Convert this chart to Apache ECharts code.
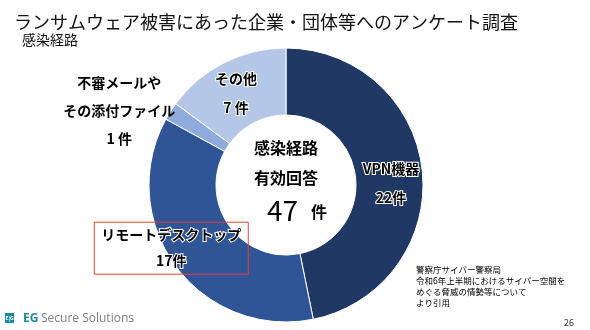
<!DOCTYPE html>
<html>
<head>
<meta charset="utf-8">
<script src="https://cdn.jsdelivr.net/npm/echarts@6/dist/echarts.min.js"></script>
<style>
html,body{margin:0;padding:0;background:#fff;}
#c{width:590px;height:330px;}
</style>
</head>
<body>
<div id="c"></div>
<script>
// ---- data ----
const categories = ['VPN機器', 'リモートデスクトップ', '不審メールや\nその添付ファイル', 'その他'];
const counts = [22, 17, 1, 7];
const countUnits = ['件', '件', ' 件', ' 件'];
const titleText = 'ランサムウェア被害にあった企業・団体等へのアンケート調査';
const subtitleText = '感染経路';
const centerLines = ['感染経路', '有効回答'];
const centerUnit = '件';
const sourceLines = ['警察庁サイバー警察局', '令和6年上半期におけるサイバー空間を', 'めぐる脅威の情勢等について', 'より引用'];
const pageNumber = '26';

// ---- styles ----
const FONT = '"Noto Sans CJK JP", "Noto Sans", sans-serif';
const colors = ['#203864', '#2f5597', '#8faadc', '#b4c7e7'];
const labelOverrides = [
  { offset: [-1, 9] },
  { offset: [-29, 0], borderColor: '#e0403a', borderWidth: 1, padding: [0, 7], lineHeight: 26 },
  { offset: [-77, -17], lineHeight: 28, textBorderWidth: 0 },
  { offset: [-2, 3] }
];

const total = counts.reduce((a, b) => a + b, 0);

const data = categories.map((name, i) => ({
  name: name,
  value: counts[i],
  unit: countUnits[i],
  itemStyle: { color: colors[i] },
  label: labelOverrides[i]
}));

const chart = echarts.init(document.getElementById('c'), null, { renderer: 'canvas' });

function txt(x, y, text, font, opts) {
  opts = opts || {};
  return {
    type: 'text', x: x, y: y, silent: true,
    style: Object.assign({
      text: text, font: font, fill: '#000',
      align: opts.align || 'left', textAlign: opts.align || 'left',
      verticalAlign: 'middle', textVerticalAlign: 'middle',
      lineHeight: opts.lineHeight
    }, opts.extra || {})
  };
}

const graphics = [
  txt(14, 22, titleText, 'normal 18px ' + FONT, { extra: { fill: '#111' } }),
  txt(22, 40, subtitleText, 'normal 14px ' + FONT, { extra: { fill: '#111' } }),
  txt(286, 148, centerLines[0], 'bold 16px ' + FONT, { align: 'center' }),
  txt(286, 178, centerLines[1], 'bold 16px ' + FONT, { align: 'center' }),
  txt(298, 210, String(total), 'normal 28px ' + FONT, { align: 'right' }),
  txt(311, 212, centerUnit, 'bold 16px ' + FONT, { align: 'left' }),
  txt(416, 286, sourceLines.join('\n'), 'normal 8.5px ' + FONT, { lineHeight: 11 }),
  txt(574, 323, pageNumber, 'normal 9px ' + FONT, { align: 'right', extra: { fill: '#333' } }),
  // logo
  { type: 'rect', shape: { x: 5, y: 313, width: 9, height: 10 }, style: { fill: '#1e8d9b' }, silent: true },
  txt(9.5, 318.5, 'E|G', 'bold 5px ' + FONT, { align: 'center', extra: { fill: '#fff' } }),
  txt(23, 319, 'EG', 'bold 12px "Open Sans", sans-serif', { extra: { fill: '#1e8d9b' } }),
  txt(41, 319, 'Secure Solutions', 'normal 12px "Open Sans", sans-serif', { extra: { fill: '#7f7f7f' } })
];

chart.setOption({
  animation: false,
  backgroundColor: '#fff',
  graphic: graphics,
  series: [{
    type: 'pie',
    center: [286, 185],
    radius: [70, 137],
    startAngle: 90,
    clockwise: true,
    avoidLabelOverlap: false,
    silent: true,
    itemStyle: { borderColor: '#fff', borderWidth: 1 },
    labelLine: { show: false },
    label: {
      show: true,
      position: 'inside',
      fontFamily: FONT,
      fontSize: 14,
      fontWeight: 'bold',
      color: '#000',
      lineHeight: 29,
      textBorderColor: '#fff',
      textBorderWidth: 2,
      formatter: p => p.name + '\n' + p.value + p.data.unit
    },
    data: data
  }]
});
</script>
</body>
</html>
